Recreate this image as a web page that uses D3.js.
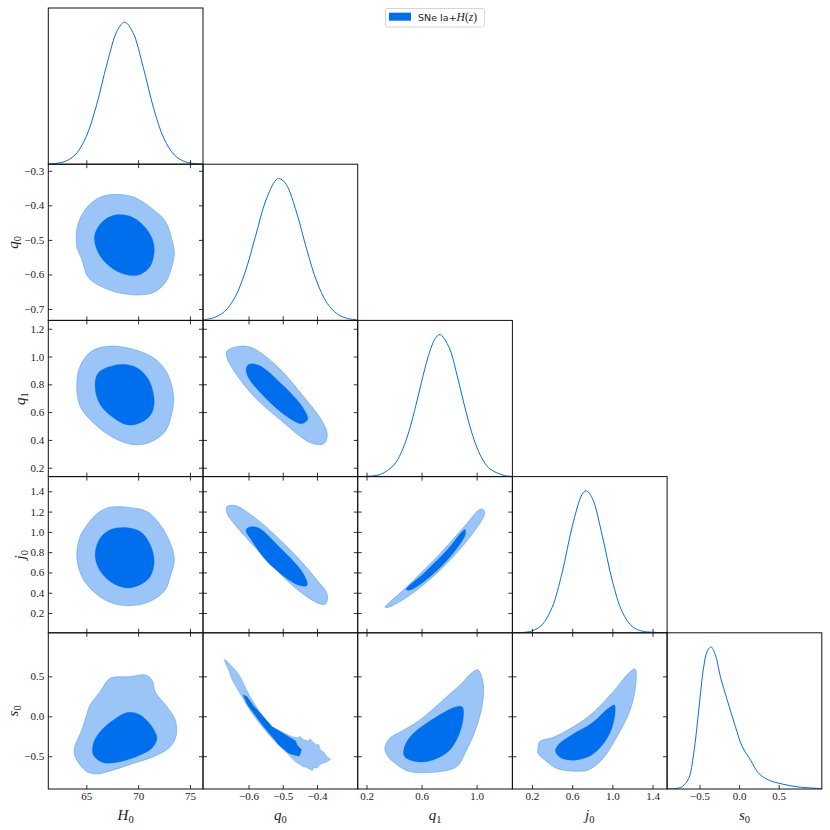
<!DOCTYPE html>
<html>
<head>
<meta charset="utf-8">
<script src="https://cdn.jsdelivr.net/npm/d3@7"></script>
<style>
  body { margin: 0; background: #fff; }
</style>
</head>
<body>
<svg id="chart"></svg>
<script>
// Parameters (symbol + subscript), plot ranges and ticks
const paramSymbols = ["H", "q", "q", "j", "s"];
const paramSubs = ["0", "0", "1", "0", "0"];
const ranges = [[61.33, 76.26], [-0.733, -0.281], [0.136, 1.260], [0.005, 1.545], [-0.91, 1.045]];
const xTicks = [[65, 70, 75], [-0.6, -0.5, -0.4], [0.2, 0.6, 1.0], [0.2, 0.6, 1.0, 1.4], [-0.5, 0.0, 0.5]];
const yTicks = [[], [-0.7, -0.6, -0.5, -0.4, -0.3], [0.2, 0.4, 0.6, 0.8, 1.0, 1.2],
                [0.2, 0.4, 0.6, 0.8, 1.0, 1.2, 1.4], [-0.5, 0.0, 0.5]];

// 1D marginals: [value, normalised density]
const h0Marg = [[61.33, 0.001], [62, 0.005], [63, 0.021], [64, 0.072], [65, 0.196], [66, 0.42], [67, 0.709],
                [68, 0.943], [68.7, 1.0], [69.5, 0.927], [70.5, 0.68], [71.5, 0.393], [72.5, 0.179],
                [73.5, 0.065], [74.5, 0.018], [75.5, 0.004], [76.26, 0.001]];
const q0Marg = [[-0.733, 0.004], [-0.70, 0.02], [-0.67, 0.063], [-0.64, 0.161], [-0.61, 0.339], [-0.58, 0.589],
                [-0.55, 0.841], [-0.52, 0.989], [-0.51, 1.0], [-0.49, 0.958], [-0.46, 0.763], [-0.43, 0.5],
                [-0.40, 0.27], [-0.37, 0.12], [-0.34, 0.044], [-0.31, 0.013], [-0.281, 0.003]];
const q1Marg = [[0.136, 0.0004], [0.2, 0.002], [0.3, 0.015], [0.4, 0.083], [0.45, 0.164], [0.5, 0.293],
                [0.55, 0.467], [0.6, 0.667], [0.65, 0.851], [0.7, 0.973], [0.735, 1.0], [0.8, 0.91],
                [0.85, 0.745], [0.9, 0.546], [0.95, 0.358], [1.0, 0.21], [1.05, 0.11], [1.1, 0.052],
                [1.2, 0.008], [1.26, 0.002]];
const j0Marg = [[0.005, 0.0003], [0.1, 0.002], [0.2, 0.013], [0.3, 0.056], [0.4, 0.178], [0.5, 0.423],
                [0.6, 0.746], [0.7, 0.976], [0.74, 1.0], [0.8, 0.948], [0.9, 0.683], [1.0, 0.365],
                [1.1, 0.145], [1.2, 0.043], [1.3, 0.011], [1.4, 0.004], [1.545, 0.0]];
const s0Marg = [[-0.91, 0.0], [-0.80, 0.004], [-0.72, 0.016], [-0.637, 0.075], [-0.574, 0.25], [-0.51, 0.557],
                [-0.447, 0.862], [-0.404, 0.968], [-0.354, 1.0], [-0.30, 0.945], [-0.236, 0.79],
                [-0.151, 0.628], [-0.047, 0.44], [0.038, 0.30], [0.143, 0.205], [0.248, 0.11],
                [0.374, 0.063], [0.544, 0.035], [0.754, 0.014], [1.045, 0.003]];
const marginals = [h0Marg, q0Marg, q1Marg, j0Marg, s0Marg];

// 2D contours (68% inner, 95% outer) as [x, y] parameter values
const h0q0Outer = [[67.46, -0.369], [69.55, -0.376], [71.48, -0.413], [72.62, -0.446], [73.26, -0.499], [73.49, -0.537],
                   [73.26, -0.576], [72.62, -0.624], [71.48, -0.652], [70.2, -0.659], [68.26, -0.654], [66.65, -0.638],
                   [65.2, -0.609], [64.56, -0.556], [64.08, -0.518], [64.14, -0.461], [64.88, -0.413], [66.0, -0.382]];
const h0q0Inner = [[67.94, -0.427], [69.55, -0.436], [70.85, -0.47], [71.48, -0.508], [71.55, -0.537], [71.17, -0.576],
                   [70.2, -0.6], [69.07, -0.602], [67.62, -0.585], [66.33, -0.547], [65.78, -0.499], [66.0, -0.47],
                   [66.81, -0.441]];
const h0q1Outer = [[67.3, 1.075], [69.55, 1.051], [71.48, 0.991], [72.78, 0.884], [73.42, 0.715], [73.26, 0.596],
                   [72.62, 0.463], [71.17, 0.384], [69.55, 0.366], [67.62, 0.416], [65.68, 0.524], [64.4, 0.643],
                   [64.08, 0.787], [64.4, 0.931], [65.53, 1.039]];
const h0q1Inner = [[68.26, 0.943], [69.88, 0.919], [71.0, 0.835], [71.55, 0.692], [71.33, 0.596], [70.52, 0.535],
                   [69.07, 0.507], [67.62, 0.56], [66.33, 0.655], [65.85, 0.775], [66.17, 0.884]];
const h0j0Outer = [[67.3, 1.243], [69.23, 1.239], [70.85, 1.2], [72.14, 1.069], [73.1, 0.889], [73.49, 0.725],
                   [73.1, 0.561], [72.62, 0.43], [71.17, 0.315], [69.23, 0.273], [67.3, 0.305], [65.68, 0.413],
                   [64.56, 0.561], [64.08, 0.757], [64.4, 0.954], [65.2, 1.086], [66.17, 1.19]];
const h0j0Inner = [[68.59, 1.043], [70.2, 1.003], [71.17, 0.872], [71.55, 0.708], [71.17, 0.561], [70.2, 0.479],
                   [68.91, 0.447], [67.3, 0.512], [66.17, 0.643], [65.85, 0.791], [66.33, 0.938], [67.3, 1.02]];
const h0s0Outer = [[67.3, 0.475], [69.23, 0.495], [70.68, 0.516], [71.33, 0.454], [71.65, 0.308], [72.78, 0.12],
                   [73.58, -0.046], [73.68, -0.234], [73.1, -0.38], [71.48, -0.505], [69.55, -0.588], [67.62, -0.671],
                   [66.0, -0.721], [65.04, -0.692], [64.08, -0.546], [63.82, -0.421], [64.56, -0.171], [64.98, -0.005],
                   [65.36, 0.141], [66.33, 0.308]];
const h0s0Inner = [[67.62, -0.046], [69.07, 0.05], [70.2, 0.016], [71.33, -0.13], [71.81, -0.275], [71.33, -0.4],
                   [70.2, -0.484], [68.26, -0.568], [66.65, -0.58], [65.68, -0.484], [65.68, -0.338], [66.33, -0.192]];
const q0q1Outer = [[-0.663, 1.039], [-0.629, 1.073], [-0.59, 1.063], [-0.522, 0.943], [-0.444, 0.727], [-0.385, 0.535],
                   [-0.37, 0.439], [-0.38, 0.373], [-0.419, 0.38], [-0.502, 0.535], [-0.58, 0.703], [-0.639, 0.884],
                   [-0.663, 0.991]];
const q0q1Inner = [[-0.6, 0.943], [-0.57, 0.938], [-0.502, 0.799], [-0.444, 0.643], [-0.427, 0.548], [-0.444, 0.517],
                   [-0.483, 0.56], [-0.551, 0.703], [-0.6, 0.847], [-0.607, 0.907]];
const q0j0Outer = [[-0.663, 1.249], [-0.639, 1.259], [-0.58, 1.135], [-0.483, 0.84], [-0.405, 0.545], [-0.37, 0.381],
                   [-0.375, 0.289], [-0.395, 0.295], [-0.463, 0.447], [-0.56, 0.774], [-0.639, 1.069], [-0.663, 1.184]];
const q0j0Inner = [[-0.604, 1.037], [-0.575, 1.045], [-0.507, 0.84], [-0.44, 0.59], [-0.429, 0.473], [-0.453, 0.473],
                   [-0.546, 0.708], [-0.595, 0.938], [-0.607, 1.003]];
const q1j0Outer = [[0.335, 0.256], [0.493, 0.459], [0.735, 0.787], [0.929, 1.082], [1.014, 1.214], [1.046, 1.223],
                   [1.058, 1.18], [0.953, 0.951], [0.735, 0.624], [0.517, 0.378], [0.372, 0.263]];
const q1j0Inner = [[0.488, 0.433], [0.614, 0.59], [0.784, 0.82], [0.893, 1.0], [0.917, 1.023], [0.917, 0.968],
                   [0.808, 0.754], [0.662, 0.558], [0.517, 0.427]];
const q1s0Outer = [[0.333, -0.4], [0.369, -0.275], [0.442, -0.2], [0.588, -0.046], [0.757, 0.204], [0.878, 0.391],
                   [0.975, 0.558], [1.011, 0.579], [1.048, 0.412], [1.043, 0.163], [1.0, -0.13], [0.927, -0.421],
                   [0.854, -0.63], [0.684, -0.7], [0.515, -0.692], [0.442, -0.63], [0.357, -0.505]];
const q1s0Inner = [[0.47, -0.42], [0.52, -0.25], [0.709, -0.005], [0.854, 0.12], [0.898, 0.112], [0.891, -0.13],
                   [0.806, -0.421], [0.684, -0.546], [0.564, -0.568], [0.478, -0.505]];
const j0s0Outer = [[0.26, -0.4], [0.277, -0.317], [0.427, -0.255], [0.76, -0.005], [0.994, 0.288], [1.177, 0.558],
                   [1.227, 0.591], [1.234, 0.412], [1.177, 0.079], [1.027, -0.296], [0.894, -0.546], [0.76, -0.671],
                   [0.594, -0.684], [0.444, -0.65], [0.327, -0.546], [0.26, -0.463]];
const j0s0Inner = [[0.46, -0.359], [0.594, -0.234], [0.794, -0.088], [0.96, 0.1], [1.02, 0.141], [1.01, -0.088],
                   [0.927, -0.317], [0.794, -0.484], [0.644, -0.546], [0.494, -0.525], [0.434, -0.442]];
// q0-s0 is noisy (sampling), kept as a ragged polygon
const q0s0Outer = [[-0.672, 0.71], [-0.665, 0.70], [-0.652, 0.64], [-0.638, 0.579], [-0.628, 0.52], [-0.619, 0.454],
                   [-0.608, 0.35], [-0.595, 0.245], [-0.58, 0.14], [-0.565, 0.037], [-0.548, -0.05], [-0.531, -0.13],
                   [-0.5, -0.2], [-0.473, -0.255], [-0.455, -0.27], [-0.45, -0.25], [-0.44, -0.29], [-0.425, -0.31],
                   [-0.42, -0.28], [-0.41, -0.33], [-0.40, -0.36], [-0.395, -0.35], [-0.39, -0.42], [-0.38, -0.45],
                   [-0.372, -0.5], [-0.36, -0.54], [-0.37, -0.57], [-0.385, -0.59], [-0.395, -0.62], [-0.40, -0.65],
                   [-0.41, -0.64], [-0.412, -0.68], [-0.42, -0.665], [-0.43, -0.64], [-0.44, -0.63], [-0.452, -0.6],
                   [-0.463, -0.568], [-0.475, -0.52], [-0.487, -0.463], [-0.5, -0.41], [-0.512, -0.359],
                   [-0.536, -0.255], [-0.56, -0.13], [-0.575, -0.05], [-0.59, 0.037], [-0.605, 0.14],
                   [-0.619, 0.245], [-0.634, 0.35], [-0.648, 0.454], [-0.658, 0.579], [-0.666, 0.65]];
const q0s0Inner = [[-0.616, 0.27], [-0.604, 0.245], [-0.585, 0.13], [-0.565, 0.037], [-0.531, -0.13], [-0.482, -0.255],
                   [-0.462, -0.31], [-0.458, -0.359], [-0.445, -0.42], [-0.448, -0.463], [-0.452, -0.5],
                   [-0.47, -0.48], [-0.483, -0.463], [-0.512, -0.359], [-0.531, -0.255], [-0.556, -0.13],
                   [-0.585, 0.037], [-0.603, 0.14], [-0.614, 0.245]];

const panels2D = [
  { col: 0, row: 1, outer: h0q0Outer, inner: h0q0Inner },
  { col: 0, row: 2, outer: h0q1Outer, inner: h0q1Inner },
  { col: 0, row: 3, outer: h0j0Outer, inner: h0j0Inner },
  { col: 0, row: 4, outer: h0s0Outer, inner: h0s0Inner },
  { col: 1, row: 2, outer: q0q1Outer, inner: q0q1Inner },
  { col: 1, row: 3, outer: q0j0Outer, inner: q0j0Inner },
  { col: 1, row: 4, outer: q0s0Outer, inner: q0s0Inner, ragged: true },
  { col: 2, row: 3, outer: q1j0Outer, inner: q1j0Inner },
  { col: 2, row: 4, outer: q1s0Outer, inner: q1s0Inner },
  { col: 3, row: 4, outer: j0s0Outer, inner: j0s0Inner }
];

const darkBlue = "#006FED";
const lightBlue = "#9bc5f6";

// Layout
const width = 830, height = 830;
const gridLeft = 48.3, gridTop = 8, cellW = 154.7, cellH = 156.2;
const n = paramSymbols.length;

const svg = d3.select("#chart").attr("width", width).attr("height", height);
svg.append("rect").attr("width", width).attr("height", height).attr("fill", "#fff");
const defs = svg.append("defs");

const xScales = ranges.map((d, i) => d3.scaleLinear().domain(d).range([gridLeft + i * cellW, gridLeft + (i + 1) * cellW]));
const yScales = ranges.map((d, j) => d3.scaleLinear().domain(d).range([gridTop + (j + 1) * cellH, gridTop + j * cellH]));
const fmt = i => (i === 0 ? d3.format("d") : d3.format(".1f"));

const tickFont = "'Liberation Serif', 'Times New Roman', serif";

function styleAxis(g) {
  g.select(".domain").remove();
  g.selectAll(".tick line").attr("stroke", "#000").attr("stroke-width", 0.8);
  g.selectAll(".tick text").attr("font-family", tickFont).attr("font-size", 11).attr("fill", "#222");
}

function clipFor(col, row) {
  const id = `clip-${col}-${row}`;
  defs.append("clipPath").attr("id", id).append("rect")
    .attr("x", xScales[col].range()[0]).attr("y", yScales[row].range()[1])
    .attr("width", cellW).attr("height", cellH);
  return `url(#${id})`;
}

// 1D marginals on the diagonal
for (let i = 0; i < n; i++) {
  const x = xScales[i];
  const y = d3.scaleLinear().domain([0, 1.1]).range(yScales[i].range());
  const g = svg.append("g");
  g.append("path")
    .datum(marginals[i])
    .attr("clip-path", clipFor(i, i))
    .attr("fill", "none")
    .attr("stroke", darkBlue)
    .attr("stroke-width", 1)
    .attr("d", d3.line().x(d => x(d[0])).y(d => y(d[1])).curve(d3.curveCatmullRom));
  g.append("g")
    .attr("transform", `translate(0,${y.range()[0]})`)
    .call(d3.axisBottom(x).tickValues(xTicks[i]).tickSizeInner(-4).tickSizeOuter(0)
      .tickPadding(3.5).tickFormat(i === n - 1 ? fmt(i) : ""))
    .call(styleAxis);
}

// 2D contour panels
const contourLine = (x, y, curve) => d3.line().x(d => x(d[0])).y(d => y(d[1])).curve(curve);
panels2D.forEach(p => {
  const x = xScales[p.col], y = yScales[p.row];
  const curve = p.ragged ? d3.curveLinearClosed : d3.curveCatmullRomClosed.alpha(0.5);
  const g = svg.append("g").attr("clip-path", clipFor(p.col, p.row));
  g.append("path").datum(p.outer)
    .attr("fill", lightBlue).attr("stroke", "#5a9ff2").attr("stroke-width", p.ragged ? 0.4 : 0.6)
    .attr("d", contourLine(x, y, curve));
  g.append("path").datum(p.inner)
    .attr("fill", darkBlue).attr("stroke", darkBlue).attr("stroke-width", 0.3)
    .attr("d", contourLine(x, y, curve));

  const ax = svg.append("g");
  const [y0, y1] = y.range();
  const [x0, x1] = x.range();
  ax.append("g").attr("transform", `translate(0,${y0})`)
    .call(d3.axisBottom(x).tickValues(xTicks[p.col]).tickSizeInner(-4).tickSizeOuter(0)
      .tickPadding(3.5).tickFormat(p.row === n - 1 ? fmt(p.col) : ""))
    .call(styleAxis);
  ax.append("g").attr("transform", `translate(0,${y1})`)
    .call(d3.axisTop(x).tickValues(xTicks[p.col]).tickSizeInner(-4).tickSizeOuter(0).tickFormat(""))
    .call(styleAxis);
  const leftAxis = ax.append("g").attr("transform", `translate(${x0},0)`)
    .call(d3.axisLeft(y).tickValues(yTicks[p.row]).tickSizeInner(-4).tickSizeOuter(0)
      .tickPadding(4).tickFormat(p.col === 0 ? fmt(p.row) : ""))
    .call(styleAxis);
  ax.append("g").attr("transform", `translate(${x1},0)`)
    .call(d3.axisRight(y).tickValues(yTicks[p.row]).tickSizeInner(-4).tickSizeOuter(0).tickFormat(""))
    .call(styleAxis);

  // y axis title, placed just outside the widest tick label
  if (p.col === 0) {
    let maxW = 0;
    leftAxis.selectAll(".tick text").each(function () {
      maxW = Math.max(maxW, this.getComputedTextLength());
    });
    const tx = x0 - 4 - maxW - 6;
    const ty = (y0 + y1) / 2;
    const t = svg.append("text")
      .attr("transform", `translate(${tx},${ty}) rotate(-90)`)
      .attr("text-anchor", "middle")
      .attr("font-family", tickFont).attr("font-size", 15).attr("fill", "#222");
    t.append("tspan").attr("font-style", "italic").text(paramSymbols[p.row]);
    t.append("tspan").attr("font-size", 10.5).attr("dy", 3).text(paramSubs[p.row]);
  }
});

// panel frames
const frames = [];
for (let j = 0; j < n; j++) for (let i = 0; i <= j; i++) frames.push([i, j]);
svg.append("g").selectAll("rect").data(frames).join("rect")
  .attr("x", d => xScales[d[0]].range()[0])
  .attr("y", d => yScales[d[1]].range()[1])
  .attr("width", cellW).attr("height", cellH)
  .attr("fill", "none").attr("stroke", "#111").attr("stroke-width", 1);

// x axis titles
for (let i = 0; i < n; i++) {
  const t = svg.append("text")
    .attr("x", d3.mean(xScales[i].range()))
    .attr("y", 820)
    .attr("text-anchor", "middle")
    .attr("font-family", tickFont).attr("font-size", 15).attr("fill", "#222");
  t.append("tspan").attr("font-style", "italic").text(paramSymbols[i]);
  t.append("tspan").attr("font-size", 10.5).attr("dy", 3).text(paramSubs[i]);
}

// legend
const legend = svg.append("g");
legend.append("rect").attr("x", 385.5).attr("y", 8.5).attr("width", 99).attr("height", 18.5).attr("rx", 2)
  .attr("fill", "#fff").attr("stroke", "#cccccc").attr("stroke-width", 0.8);
legend.append("rect").attr("x", 389).attr("y", 12.7).attr("width", 22).attr("height", 8).attr("fill", darkBlue);
const lt = legend.append("text").attr("x", 418).attr("y", 21).attr("fill", "#222");
lt.append("tspan").attr("font-family", "'DejaVu Sans', sans-serif").attr("font-size", 9.5).text("SNe Ia");
lt.append("tspan").attr("font-family", "'DejaVu Sans', sans-serif").attr("font-size", 9.5).text("+");
lt.append("tspan").attr("font-family", tickFont).attr("font-size", 11.5).attr("font-style", "italic").text("H");
lt.append("tspan").attr("font-family", tickFont).attr("font-size", 11.5).text("(");
lt.append("tspan").attr("font-family", tickFont).attr("font-size", 11.5).attr("font-style", "italic").text("z");
lt.append("tspan").attr("font-family", tickFont).attr("font-size", 11.5).text(")");
</script>
</body>
</html>
